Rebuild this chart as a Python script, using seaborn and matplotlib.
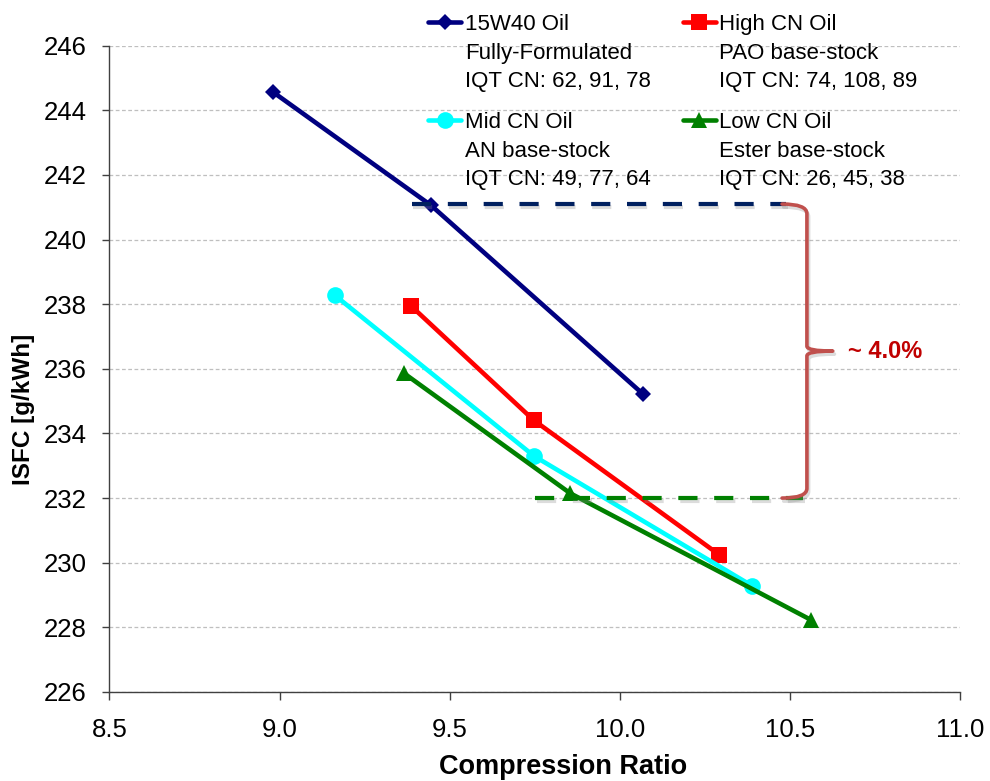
import matplotlib
matplotlib.use("Agg")
import matplotlib.pyplot as plt
import matplotlib.patheffects as pe
from matplotlib.path import Path
from matplotlib.patches import PathPatch
import numpy as np
import pandas as pd
import seaborn as sns

# ---- data -------------------------------------------------------------
oil_names = ["15W40 Oil", "High CN Oil", "Mid CN Oil", "Low CN Oil"]
oil_types = ["Fully-Formulated", "PAO base-stock", "AN base-stock", "Ester base-stock"]
iqt_cn = ["62, 91, 78", "74, 108, 89", "49, 77, 64", "26, 45, 38"]

cr_15w40 = [8.98, 9.445, 10.067]
isfc_15w40 = [244.57, 241.06, 235.23]

cr_high = [9.387, 9.747, 10.293]
isfc_high = [237.94, 234.41, 230.24]

cr_mid = [9.163, 9.748, 10.388]
isfc_mid = [238.27, 233.30, 229.29]

cr_low = [9.366, 9.854, 10.562]
isfc_low = [235.86, 232.15, 228.23]

# spread between the best and worst oil
upper_ref = 241.1
lower_ref = 232.0
upper_ref_x = [9.388, 10.49]
lower_ref_x = [9.751, 10.539]
spread_label = "~ 4.0%"

x_ticks = [8.5, 9.0, 9.5, 10.0, 10.5, 11.0]
y_ticks = [226, 228, 230, 232, 234, 236, 238, 240, 242, 244, 246]

# ---- style ------------------------------------------------------------
sns.set_theme(style="white")
plt.rcParams["font.family"] = ["Liberation Sans", "DejaVu Sans"]
plt.rcParams["text.color"] = "black"
plt.rcParams["axes.labelcolor"] = "black"
plt.rcParams["xtick.color"] = "black"
plt.rcParams["ytick.color"] = "black"

colors = ["#000080", "#FF0000", "#00FFFF", "#008000"]
markers = ["D", "s", "o", "^"]
msizes = [8, 12, 12, 12]

frames = []
for name, xs, ys in zip(oil_names,
                        [cr_15w40, cr_high, cr_mid, cr_low],
                        [isfc_15w40, isfc_high, isfc_mid, isfc_low]):
    frames.append(pd.DataFrame({"oil": name, "cr": xs, "isfc": ys}))
df = pd.concat(frames, ignore_index=True)

fig = plt.figure(figsize=(9.9, 7.81), dpi=100)
ax = fig.add_axes([0.1106, 0.1140, 0.8591, 0.8275])

handles = []
for name, c, m, ms in zip(oil_names, colors, markers, msizes):
    sub = df[df["oil"] == name]
    sns.lineplot(data=sub, x="cr", y="isfc", color=c, marker=m, markersize=ms,
                 markeredgewidth=0, lw=3.3, ax=ax, label=name, zorder=3)
    handles.append(ax.lines[-1])

# reference levels with soft shadow
shadow = [pe.SimpleLineShadow(offset=(1.2, -2.2), shadow_color="#8c8c8c", alpha=0.3),
          pe.Normal()]
ax.plot(upper_ref_x, [upper_ref, upper_ref], color="#002060", lw=3,
        ls=(0, (4.6, 4.0)), path_effects=shadow, zorder=4)
ax.plot(lower_ref_x, [lower_ref, lower_ref], color="#008000", lw=3,
        ls=(0, (4.6, 4.0)), path_effects=shadow, zorder=4)

# curly brace joining the two levels
bx, tip, xl = 10.55, 10.626, 10.477
mid = (upper_ref + lower_ref) / 2
r, rm = 0.3, 0.15
verts = [
    (xl, upper_ref), (bx, upper_ref), (bx, upper_ref - r),
    (bx, mid + rm), (bx, mid), (tip, mid),
    (bx, mid), (bx, mid - rm),
    (bx, lower_ref + r), (bx, lower_ref), (xl, lower_ref),
]
codes = [Path.MOVETO, Path.CURVE3, Path.CURVE3,
         Path.LINETO, Path.CURVE3, Path.CURVE3,
         Path.CURVE3, Path.CURVE3,
         Path.LINETO, Path.CURVE3, Path.CURVE3]
brace = PathPatch(Path(verts, codes), fill=False, edgecolor="#C0504D", lw=2.6,
                  capstyle="round", joinstyle="round", zorder=5,
                  path_effects=shadow)
ax.add_patch(brace)
ax.text(10.671, mid, spread_label, color="#C00000", fontsize=17,
        fontweight="bold", ha="left", va="center", zorder=6)

# axes
ax.set_xlim(x_ticks[0], x_ticks[-1])
ax.set_ylim(y_ticks[0], y_ticks[-1])
ax.set_xticks(x_ticks)
ax.set_yticks(y_ticks)
ax.set_xticklabels([f"{v:.1f}" for v in x_ticks], fontsize=18.5)
ax.set_yticklabels([str(v) for v in y_ticks], fontsize=18.5)
ax.tick_params(axis="both", direction="out", length=5.4, width=1.0,
               color="#404040", labelcolor="black", left=True, bottom=True)
ax.tick_params(axis="y", pad=10.8)
ax.tick_params(axis="x", pad=13)
ax.yaxis.grid(True, color="#BFBFBF", ls=(0, (3, 2)), lw=0.9)
ax.xaxis.grid(False)
ax.set_axisbelow(True)
for s in ["top", "right"]:
    ax.spines[s].set_visible(False)
for s in ["left", "bottom"]:
    ax.spines[s].set_color("#404040")
    ax.spines[s].set_linewidth(1.0)

ax.set_xlabel("Compression Ratio", fontsize=19.5, fontweight="bold", va="baseline")
ax.xaxis.set_label_coords(0.5338, -0.127)
ax.set_ylabel("ISFC [g/kWh]", fontsize=17.5, fontweight="bold", va="baseline")
ax.yaxis.set_label_coords(-0.0929, 0.438)

labels = [f"{n}\n{t}\nIQT CN: {c}" for n, t, c in zip(oil_names, oil_types, iqt_cn)]
order = [0, 2, 1, 3]
leg = ax.legend([handles[i] for i in order], [labels[i] for i in order],
                ncol=2, loc="upper left",
                bbox_to_anchor=(428 / 990, 1 - 14 / 781), bbox_transform=fig.transFigure,
                frameon=False, fontsize=16, handlelength=1.5, handletextpad=0.15,
                columnspacing=1.45, labelspacing=0.9, borderpad=0, borderaxespad=0)
leg.set_zorder(10)
for t in leg.get_texts():
    t.set_linespacing(1.47)
    t.set_color("black")
# put each handle next to the first line of its label
for col in leg._legend_handle_box.get_children():
    for row in col.get_children():
        row.align = "top"

fig.savefig("out.png", dpi=100)
